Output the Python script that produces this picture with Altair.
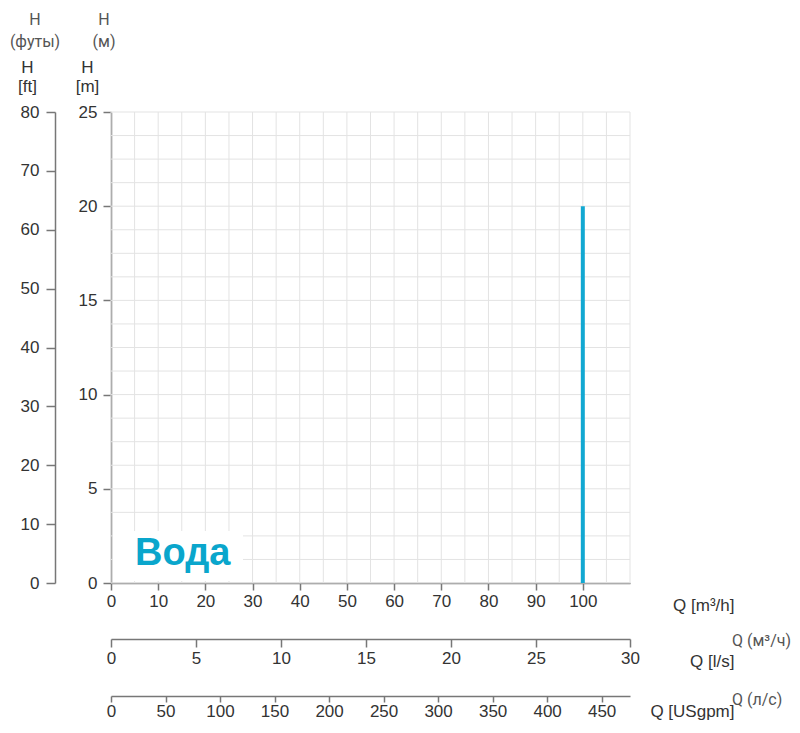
import altair as alt
import pandas as pd

# ---- data ----
q_m3h_ticks = [0, 10, 20, 30, 40, 50, 60, 70, 80, 90, 100]
grid_q = [0, 5, 10, 15, 20, 25, 30, 35, 40, 45, 50, 55, 60, 65, 70, 75, 80, 85, 90, 95, 100, 105, 110]
grid_h = [0, 1.25, 2.5, 3.75, 5, 6.25, 7.5, 8.75, 10, 11.25, 12.5, 13.75, 15, 16.25,
          17.5, 18.75, 20, 21.25, 22.5, 23.75, 25]
h_m_ticks = [0, 5, 10, 15, 20, 25]
h_ft_ticks = [0, 10, 20, 30, 40, 50, 60, 70, 80]
q_ls_ticks = [0, 5, 10, 15, 20, 25, 30]
q_gpm_ticks = [0, 50, 100, 150, 200, 250, 300, 350, 400, 450]
curve_q = [100]
curve_h_start = [0]
curve_h_end = [20]

Q_MAX = 110
H_MAX = 25
FT_MAX = 80
LS_AXIS_END = 30.53
GPM_MAX = 476

FONT = "Liberation Sans"
RU_FONT = "Roboto"
AX_COL = "#777777"
LAB_COL = "#333333"
GRID_COL = "#e3e3e3"
BLUE = "#12a8d2"

xs = alt.Scale(domain=[0, Q_MAX], nice=False, zero=False)
ys = alt.Scale(domain=[0, H_MAX], nice=False, zero=False)

common_axis = dict(
    domainColor=AX_COL, domainWidth=1.5, tickColor=AX_COL, tickWidth=1.5,
    labelColor=LAB_COL, labelFont=FONT, labelFontSize=17, grid=False,
    labelFlush=False, labelOverlap=False,
    titleFont=FONT, titleFontSize=17, titleFontWeight="normal", titleColor=LAB_COL,
)

grid_q_df = pd.DataFrame({"q": grid_q})
grid_h_df = pd.DataFrame({"h": grid_h})

vgrid = alt.Chart(grid_q_df).mark_rule(color=GRID_COL, strokeWidth=1).encode(
    x=alt.X("q:Q", scale=xs,
            axis=alt.Axis(orient="bottom", values=q_m3h_ticks, tickSize=7, labelPadding=3,
                          title="Q [m³/h]", titleAlign="right", titleBaseline="middle",
                          titleX=623, titleY=22, titleAngle=0, **common_axis))
)

hgrid = alt.Chart(grid_h_df).mark_rule(color=GRID_COL, strokeWidth=1).encode(
    y=alt.Y("h:Q", scale=ys,
            axis=alt.Axis(orient="left", values=h_m_ticks, tickSize=8, labelPadding=6,
                          title=["H", "[m]"], titleAngle=0, titleAlign="center",
                          titleBaseline="top", titleX=-24, titleY=-53, titleLineHeight=19,
                          **common_axis))
)

white_box = alt.Chart(pd.DataFrame({"a": [0]})).mark_rect(color="white").encode(
    x=alt.value(2), x2=alt.value(132), y=alt.value(419), y2=alt.value(469)
)

water = alt.Chart(pd.DataFrame({"t": ["Вода"]})).mark_text(
    font=FONT, fontSize=38, fontWeight="bold", color="#0aa6cc", align="left", baseline="alphabetic"
).encode(text="t:N", x=alt.value(24), y=alt.value(453))

curve_df = pd.DataFrame({"q": curve_q, "h0": curve_h_start, "h1": curve_h_end})
curve = alt.Chart(curve_df).mark_rule(color=BLUE, strokeWidth=4).encode(
    x=alt.X("q:Q", scale=xs, axis=None),
    y=alt.Y("h0:Q", scale=ys, axis=None),
    y2="h1:Q",
)

ls_vals = q_ls_ticks[:-1] + [LS_AXIS_END]
ls_layer = alt.Chart(pd.DataFrame({"v": q_ls_ticks})).mark_point(opacity=0).encode(
    x=alt.X("v:Q", scale=alt.Scale(domain=[0, LS_AXIS_END], nice=False, zero=False),
            axis=alt.Axis(orient="bottom", offset=56, values=ls_vals, tickSize=8, labelPadding=3,
                          labelExpr="datum.value > 30 ? '30' : datum.label",
                          title="Q [l/s]", titleAlign="right", titleBaseline="middle",
                          titleX=623, titleY=22, titleAngle=0, **common_axis))
)

gpm_layer = alt.Chart(pd.DataFrame({"v": q_gpm_ticks})).mark_point(opacity=0).encode(
    x=alt.X("v:Q", scale=alt.Scale(domain=[0, GPM_MAX], nice=False, zero=False),
            axis=alt.Axis(orient="bottom", offset=113, values=q_gpm_ticks, tickSize=6, labelPadding=1,
                          title="Q [USgpm]", titleAlign="right", titleBaseline="middle",
                          titleX=623, titleY=15, titleAngle=0, **common_axis))
)

ft_layer = alt.Chart(pd.DataFrame({"v": h_ft_ticks})).mark_point(opacity=0).encode(
    y=alt.Y("v:Q", scale=alt.Scale(domain=[0, FT_MAX], nice=False, zero=False),
            axis=alt.Axis(orient="left", offset=56, values=h_ft_ticks, tickSize=9, labelPadding=7,
                          title=["H", "[ft]"], titleAngle=0, titleAlign="center",
                          titleBaseline="top", titleX=-28, titleY=-53, titleLineHeight=19,
                          **common_axis))
)


def ru_text(txt, x, y, align="center", size=16):
    return alt.Chart(pd.DataFrame({"t": [txt]})).mark_text(
        font=RU_FONT, fontSize=size, color="#555555", align=align, baseline="middle"
    ).encode(text="t:N", x=alt.value(x), y=alt.value(y))


ru_labels = [
    ru_text("H", -76, -92),
    ru_text("(футы)", -76, -70),
    ru_text("H", -7, -92),
    ru_text("(м)", -7, -70),
    ru_text("Q (м³/ч)", 621, 529, align="left", size=16),
    ru_text("Q (л/с)", 621, 588, align="left", size=16),
]

chart = alt.layer(
    vgrid, hgrid, white_box, water, curve, ls_layer, gpm_layer, ft_layer, *ru_labels
).resolve_scale(x="independent", y="independent").properties(
    width=519, height=471,
    autosize=alt.AutoSizeParams(type="none"),
    padding={"left": 103, "top": 104, "right": 162, "bottom": 138},
).configure_view(stroke=None)

chart.save("out.html", embed_options={"renderer": "svg", "actions": False})
